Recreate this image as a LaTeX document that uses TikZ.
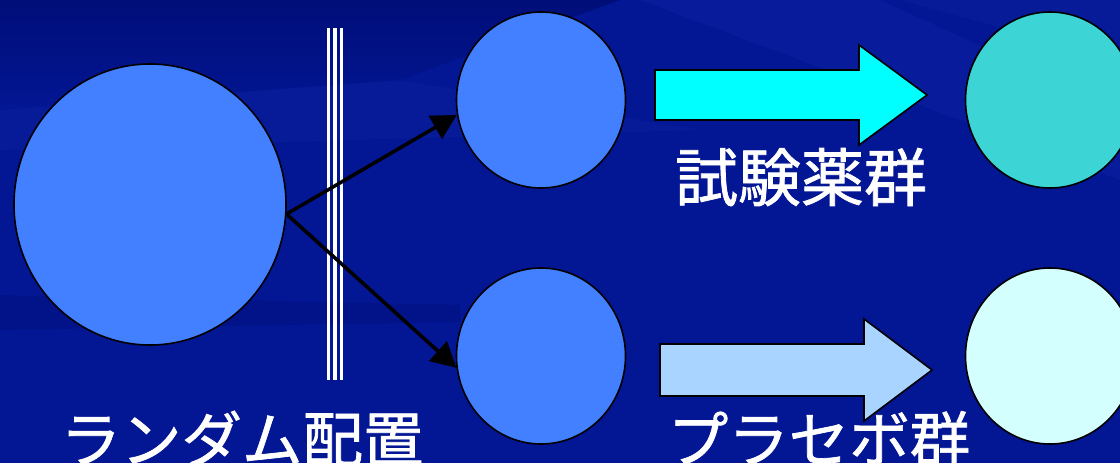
\documentclass[tikz,border=0pt]{standalone}
\usepackage{fontspec}
\newfontfamily\jpfont{Noto Sans CJK JP}[FakeBold=1.2]
\usetikzlibrary{shapes.geometric,arrows.meta}
\definecolor{bgbase}{RGB}{3,22,148}
\definecolor{bgdark}{RGB}{0,14,118}
\definecolor{bglight}{RGB}{30,50,180}
\definecolor{midblue}{RGB}{66,128,255}
\definecolor{turq}{RGB}{60,212,212}
\definecolor{palecyan}{RGB}{212,255,255}
\definecolor{arrowcyan}{RGB}{0,255,255}
\definecolor{arrowpale}{RGB}{168,212,255}
\tikzset{
  blob/.style={ellipse, draw=black, line width=1.6pt, inner sep=0pt},
  conn/.style={line width=3.5pt, -{Triangle[length=25pt,width=26pt]}},
  blockarrow/.style={draw=black, line width=1.6pt, line join=miter},
  label/.style={text=white, font=\jpfont\fontsize{63}{75}\selectfont, inner sep=0pt, anchor=base},
  smalllabel/.style={label, font=\jpfont\fontsize{60.5}{72}\selectfont},
  wline/.style={draw=white}
}
\begin{document}
\begin{tikzpicture}[x=1pt,y=-1pt]
\useasboundingbox (0,0) rectangle (1120,463);
% background
\fill[bgbase] (0,0) rectangle (1120,463);
\shade[top color=bgdark, bottom color=bgbase, opacity=0.9] (0,0) -- (620,0) -- (400,80) -- (0,110) -- cycle;
\fill[bgdark, opacity=0.3] (0,295) -- (460,305) -- (460,322) -- (0,330) -- cycle;
\fill[bglight, opacity=0.2] (640,0) -- (880,0) -- (1120,110) -- (1120,180) -- cycle;
\fill[bglight, opacity=0.15] (0,110) -- (400,80) -- (700,130) -- (0,150) -- cycle;
\fill[bglight, opacity=0.15] (900,0) -- (1120,0) -- (1120,60) -- cycle;
% triple vertical line
\draw[wline, line width=2.7pt] (328.7,28) -- (328.7,380);
\draw[wline, line width=4.6pt] (335,28) -- (335,380);
\draw[wline, line width=2.7pt] (341.3,28) -- (341.3,380);
% circles
\node[blob, fill=midblue, minimum width=272pt, minimum height=281pt] (big) at (150,204.5) {};
\node[blob, fill=midblue, minimum width=169pt, minimum height=176pt] (m1) at (541,100) {};
\node[blob, fill=midblue, minimum width=169pt, minimum height=176pt] (m2) at (541,356) {};
\node[blob, fill=turq, minimum width=169pt, minimum height=176pt] (r1) at (1050,100) {};
\node[blob, fill=palecyan, minimum width=169pt, minimum height=176pt] (r2) at (1050,356) {};
% connectors
\coordinate (split) at (big.-4);
\draw[conn] (split) -- (m1.190);
\draw[conn] (split) -- (m2.188);
% block arrows
\draw[blockarrow, fill=arrowcyan] (655,70) -- (859,70) -- (859,45) -- (927,95) -- (859,145) -- (859,120) -- (655,120) -- cycle;
\draw[blockarrow, fill=arrowpale] (660,344) -- (864,344) -- (864,319) -- (932,370) -- (864,421) -- (864,396) -- (660,396) -- cycle;
% labels
\node[label] (t1) at (801,201) {試験薬群};
\node[smalllabel] (t2) at (242,462) {ランダム配置};
\node[smalllabel] (t3) at (819,462) {プラセボ群};
\end{tikzpicture}
\end{document}
